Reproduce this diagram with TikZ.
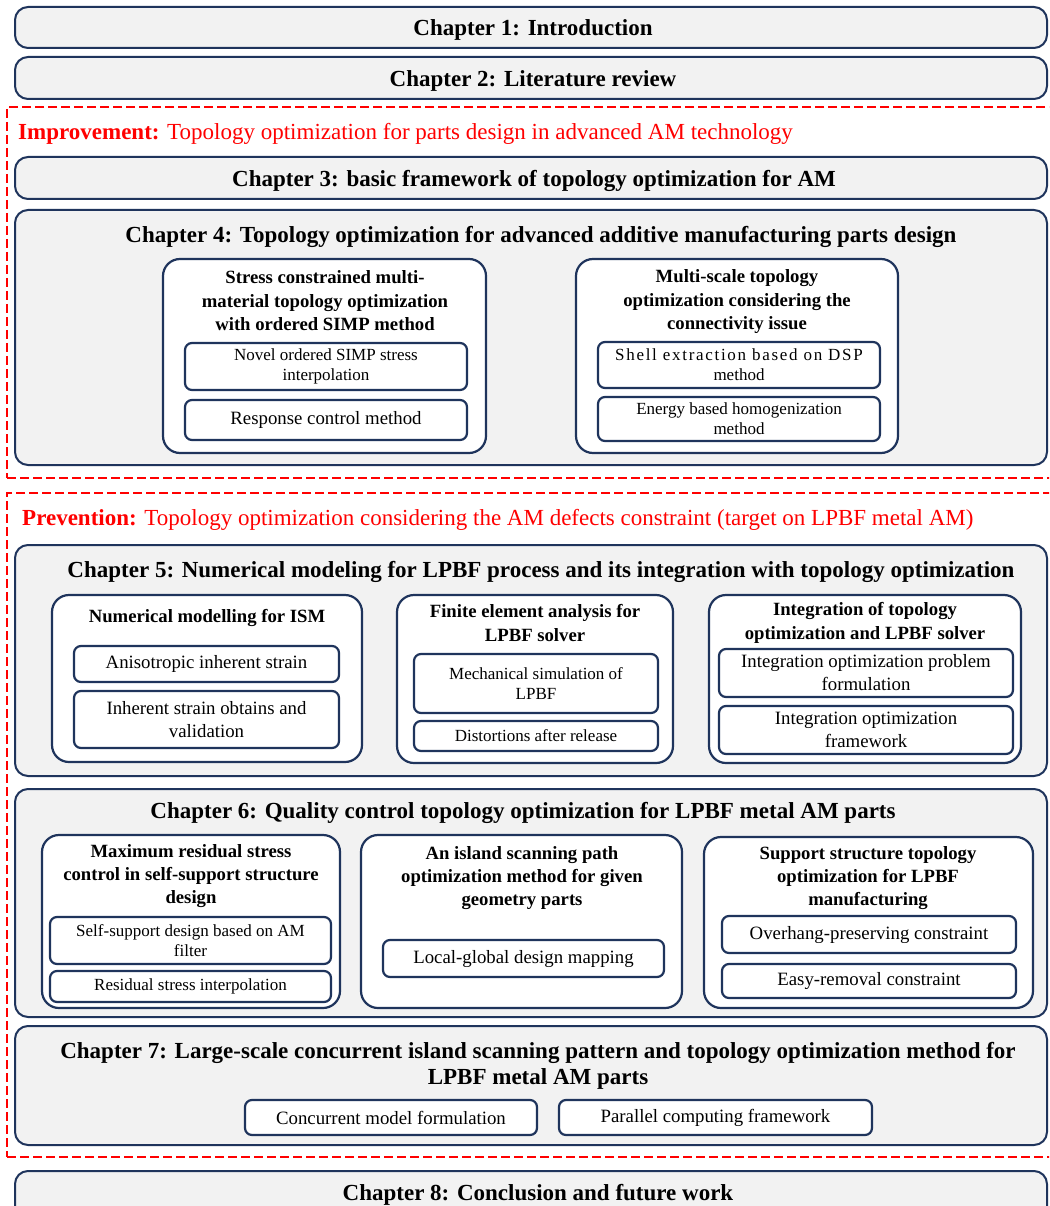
\documentclass[tikz,border=0pt]{standalone}
\usepackage{fontspec}
\setmainfont{Liberation Serif}
\usetikzlibrary{fit}
\definecolor{navy}{RGB}{31,52,92}
\definecolor{panel}{RGB}{242,242,242}
\tikzset{
  x=1pt, y=-1pt,
  outerbox/.style={draw=navy, line width=2pt, fill=panel, rounded corners=13pt, inner sep=0pt},
  midbox/.style={draw=navy, line width=2.2pt, fill=white, rounded corners=17pt, inner sep=0pt},
  leafbox/.style={draw=navy, line width=2.2pt, fill=white, rounded corners=7pt, inner sep=0pt},
  redbox/.style={draw=red, line width=2.8pt, dash pattern=on 9pt off 4pt, inner sep=0pt},
  chtitle/.style={font=\fontsize{23}{25.5}\selectfont\bfseries, align=center, inner sep=0pt},
  subtitle/.style={font=\fontsize{18.7}{23.5}\selectfont\bfseries, align=center, inner sep=0pt},
  leaftext/.style={font=\fontsize{18.8}{23}\selectfont, align=center, inner sep=0pt},
  smalltext/.style={font=\fontsize{17}{20}\selectfont, align=center, inner sep=0pt},
  headline/.style={font=\fontsize{23}{25}\selectfont, text=red, anchor=west, inner sep=0pt}
}
\begin{document}
\begin{tikzpicture}
\useasboundingbox (0,0) rectangle (1049,1206);
\clip (0,0) rectangle (1049,1206);
\fill[white] (0,0) rectangle (1049,1206);

% Chapter 1 and 2
\node[outerbox, fit={(15,7) (1047,48)}] (ch1) {};
\node[chtitle] (t1) at (533,30) {Chapter 1: Introduction};
\node[outerbox, fit={(15,57) (1047,99)}] (ch2) {};
\node[chtitle] (t2) at (533,81) {Chapter 2: Literature review};

% Improvement region
\node[redbox, fit={(7,107) (1075,478)}] (imp) {};
\node[headline] (impt) at (18,134) {\textbf{Improvement:} Topology optimization for parts design in advanced AM technology};
\node[outerbox, fit={(15,157) (1047,199)}] (ch3) {};
\node[chtitle] (t3) at (534,181) {Chapter 3: basic framework of topology optimization for AM};
\node[outerbox, fit={(15,210) (1047,465)}] (ch4) {};
\node[chtitle] (t4) at (541,237) {Chapter 4: Topology optimization for advanced additive manufacturing parts design};

\node[midbox, fit={(163,259) (486,453)}] (b41) {};
\node[subtitle] (b41t) at (325,301) {Stress constrained multi-\\material topology optimization\\with ordered SIMP method};
\node[leafbox, fit={(185,343) (467,390)}] (b41a) {};
\node[smalltext] at (b41a.center) {Novel ordered SIMP stress\\interpolation};
\node[leafbox, fit={(185,400) (467,440)}] (b41b) {};
\node[leaftext] at (b41b.center) {Response control method};

\node[midbox, fit={(576,259) (898,453)}] (b42) {};
\node[subtitle] (b42t) at (737,302) {Multi-scale topology\\optimization considering the\\connectivity issue};
\node[leafbox, fit={(598,342) (880,388)}] (b42a) {};
\node[smalltext] at (b42a.center) {\addfontfeature{LetterSpace=10}Shell extraction based on DSP\\method};
\node[leafbox, fit={(598,397) (880,441)}] (b42b) {};
\node[smalltext] at (b42b.center) {Energy based homogenization\\method};

% Prevention region
\node[redbox, fit={(7,493) (1075,1157)}] (prev) {};
\node[headline] (prevt) at (22,520) {\textbf{Prevention:} Topology optimization considering the AM defects constraint (target on LPBF metal AM)};

% Chapter 5
\node[outerbox, fit={(15,545) (1047,776)}] (ch5) {};
\node[chtitle] (t5) at (541,572) {Chapter 5: Numerical modeling for LPBF process and its integration with topology optimization};

\node[midbox, fit={(52,595) (362,762)}] (b51) {};
\node[subtitle] (b51t) at (207,618) {Numerical modelling for ISM};
\node[leafbox, fit={(74,646) (339,682)}] (b51a) {};
\node[leaftext] at (b51a.center) {Anisotropic inherent strain};
\node[leafbox, fit={(74,691) (339,748)}] (b51b) {};
\node[leaftext] at (b51b.center) {Inherent strain obtains and\\validation};

\node[midbox, fit={(397,595) (673,763)}] (b52) {};
\node[subtitle] (b52t) at (535,623) {Finite element analysis for\\LPBF solver};
\node[leafbox, fit={(414,654) (658,713)}] (b52a) {};
\node[smalltext] at (b52a.center) {Mechanical simulation of\\LPBF};
\node[leafbox, fit={(414,721) (658,751)}] (b52b) {};
\node[smalltext] at (b52b.center) {Distortions after release};

\node[midbox, fit={(709,595) (1021,763)}] (b53) {};
\node[subtitle] (b53t) at (865,623) {Integration of topology\\optimization and LPBF solver};
\node[leafbox, fit={(719,649) (1013,697)}] (b53a) {};
\node[leaftext] at (b53a.center) {Integration optimization problem\\formulation};
\node[leafbox, fit={(719,706) (1013,754)}] (b53b) {};
\node[leaftext] at (b53b.center) {Integration optimization\\framework};

% Chapter 6
\node[outerbox, fit={(15,789) (1047,1017)}] (ch6) {};
\node[chtitle] (t6) at (523,813) {Chapter 6: Quality control topology optimization for LPBF metal AM parts};

\node[midbox, fit={(42,835) (340,1008)}] (b61) {};
\node[subtitle, font=\fontsize{18.7}{22.8}\selectfont\bfseries] (b61t) at (191,876) {Maximum residual stress\\control in self-support structure\\design};
\node[leafbox, fit={(50,917) (331,964)}] (b61a) {};
\node[smalltext] at (b61a.center) {Self-support design based on AM\\filter};
\node[leafbox, fit={(50,971) (331,1002)}] (b61b) {};
\node[smalltext] at (b61b.center) {Residual stress interpolation};

\node[midbox, fit={(361,835) (682,1008)}] (b62) {};
\node[subtitle, font=\fontsize{18.7}{22.8}\selectfont\bfseries] (b62t) at (522,878) {An island scanning path\\optimization method for given\\geometry parts};
\node[leafbox, fit={(383,940) (664,977)}] (b62a) {};
\node[leaftext] at (b62a.center) {Local-global design mapping};

\node[midbox, fit={(704,837) (1033,1008)}] (b63) {};
\node[subtitle, font=\fontsize{18.7}{22.8}\selectfont\bfseries] (b63t) at (868,878) {Support structure topology\\optimization for LPBF\\manufacturing};
\node[leafbox, fit={(722,916) (1016,953)}] (b63a) {};
\node[leaftext] at (b63a.center) {Overhang-preserving constraint};
\node[leafbox, fit={(722,964) (1016,998)}] (b63b) {};
\node[leaftext] at (b63b.center) {Easy-removal constraint};

% Chapter 7
\node[outerbox, fit={(15,1026) (1047,1145)}] (ch7) {};
\node[chtitle] (t7) at (538,1066) {Chapter 7: Large-scale concurrent island scanning pattern and topology optimization method for\\LPBF metal AM parts};
\node[leafbox, fit={(245,1100) (537,1135)}] (b7a) {};
\node[leaftext] at (b7a.center) {Concurrent model formulation};
\node[leafbox, fit={(559,1100) (872,1135)}] (b7b) {};
\node[leaftext] at (b7b.center) {Parallel computing framework};

% Chapter 8
\node[outerbox, fit={(15,1171) (1047,1240)}] (ch8) {};
\node[chtitle] (t8) at (538,1195) {Chapter 8: Conclusion and future work};
\end{tikzpicture}
\end{document}
